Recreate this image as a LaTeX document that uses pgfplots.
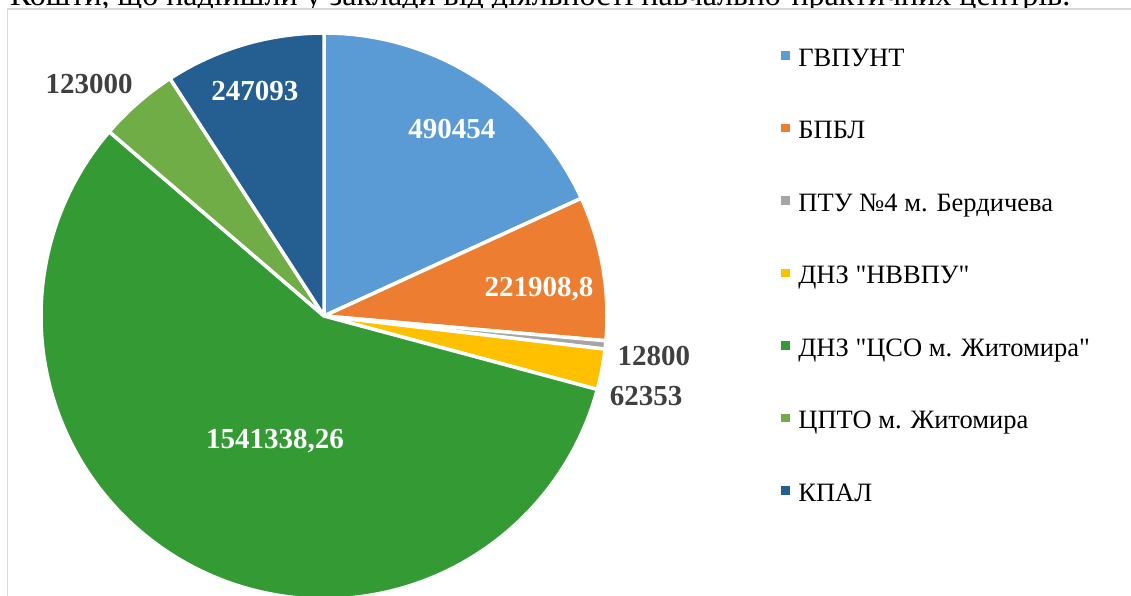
\documentclass[border=0pt]{standalone}
\usepackage{pgfplots}
\pgfplotsset{compat=1.18}
\usepackage{fontspec}
\setmainfont{Liberation Serif}
\definecolor{cA}{HTML}{5B9BD5}
\definecolor{cB}{HTML}{ED7D31}
\definecolor{cC}{HTML}{A5A5A5}
\definecolor{cD}{HTML}{FFC000}
\definecolor{cE}{HTML}{349A34}
\definecolor{cF}{HTML}{70AD47}
\definecolor{cG}{HTML}{255E91}
\definecolor{lab}{HTML}{404040}
% values
\def\vA{490454}
\def\vB{221908.8}
\def\vC{12800}
\def\vD{62353}
\def\vE{1541338.26}
\def\vF{123000}
\def\vG{247093}
\edef\total{\fpeval{\vA+\vB+\vC+\vD+\vE+\vF+\vG}}
\edef\aO{90}
\edef\aA{\fpeval{90-360*(\vA)/\total}}
\edef\aB{\fpeval{\aA-360*(\vB)/\total}}
\edef\aC{\fpeval{\aB-360*(\vC)/\total}}
\edef\aD{\fpeval{\aC-360*(\vD)/\total}}
\edef\aE{\fpeval{\aD-360*(\vE)/\total}}
\edef\aF{\fpeval{\aE-360*(\vF)/\total}}
\edef\aG{\fpeval{\aF-360*(\vG)/\total}}
\begin{document}
\begin{tikzpicture}
\useasboundingbox (0pt,0pt) rectangle (1131pt,596pt);
\clip (0pt,0pt) rectangle (1131pt,596pt);
\node[anchor=base west, inner sep=0pt, font=\fontsize{32}{36}\selectfont] at (10pt,590pt) {Кошти, що надійшли у заклади від діяльності навчально-практичних центрів.};
\fill[white] (7pt,0pt) rectangle (1140pt,587pt);
\draw[color=black!15, line width=1.5pt] (7.5pt,-5pt) -- (7.5pt,587pt) -- (1140pt,587pt);
\begin{axis}[
  at={(324pt,280pt)}, anchor=center,
  width=566pt, height=566pt, scale only axis,
  xmin=-1, xmax=1, ymin=-1, ymax=1,
  hide axis, clip=false,
  legend style={at={(axis cs:1.605,0.135)}, anchor=west, draw=none, fill=none,
    font=\fontsize{26.5}{30}\selectfont, row sep=48.5pt, column sep=8pt,
    nodes={inner sep=0pt, text height=18pt, text depth=6pt},
    legend cell align=left},
  legend image code/.code={\fill[#1, draw=none] (0pt,0.5pt) rectangle (9pt,9pt);},
]
\addplot[fill=cA, draw=white, line width=3.5pt, line join=round, domain=\aA:\aO, samples=120, variable=\t] ({cos(\t)},{sin(\t)}) -- (axis cs:0,0) -- cycle;
\addplot[fill=cB, draw=white, line width=3.5pt, line join=round, domain=\aB:\aA, samples=60, variable=\t] ({cos(\t)},{sin(\t)}) -- (axis cs:0,0) -- cycle;
\addplot[fill=cC, draw=white, line width=3.5pt, line join=round, domain=\aC:\aB, samples=10, variable=\t] ({cos(\t)},{sin(\t)}) -- (axis cs:0,0) -- cycle;
\addplot[fill=cD, draw=white, line width=3.5pt, line join=round, domain=\aD:\aC, samples=20, variable=\t] ({cos(\t)},{sin(\t)}) -- (axis cs:0,0) -- cycle;
\addplot[fill=cE, draw=white, line width=3.5pt, line join=round, domain=\aE:\aD, samples=300, variable=\t] ({cos(\t)},{sin(\t)}) -- (axis cs:0,0) -- cycle;
\addplot[fill=cF, draw=white, line width=3.5pt, line join=round, domain=\aF:\aE, samples=40, variable=\t] ({cos(\t)},{sin(\t)}) -- (axis cs:0,0) -- cycle;
\addplot[fill=cG, draw=white, line width=3.5pt, line join=round, domain=\aG:\aF, samples=60, variable=\t] ({cos(\t)},{sin(\t)}) -- (axis cs:0,0) -- cycle;
\legend{ГВПУНТ, БПБЛ, ПТУ №4 м. Бердичева, ДНЗ \textquotedbl НВВПУ\textquotedbl, ДНЗ \textquotedbl ЦСО м. Житомира\textquotedbl, ЦПТО м. Житомира, КПАЛ}
\begin{scope}[every node/.style={font=\bfseries\fontsize{29}{32}\selectfont, inner sep=0pt}]
\node[white] at (axis cs:0.452,0.661) {490454};
\node[white] at (axis cs:0.760,0.095) {221908,8};
\node[lab] at (axis cs:1.166,-0.141) {12800};
\node[lab] at (axis cs:1.138,-0.283) {62353};
\node[white] at (axis cs:-0.173,-0.442) {1541338,26};
\node[lab] at (axis cs:-0.830,0.820) {123000};
\node[white] at (axis cs:-0.244,0.795) {247093};
\end{scope}
\end{axis}
\end{tikzpicture}
\end{document}
